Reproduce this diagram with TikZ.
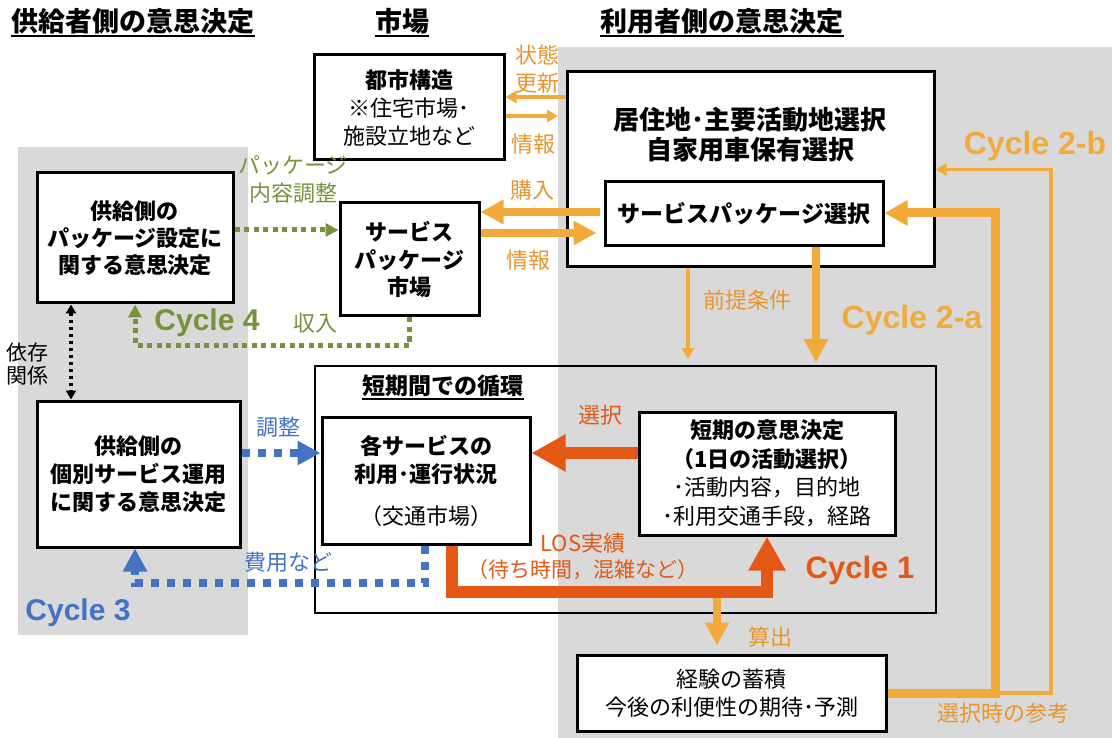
\documentclass[tikz,border=0pt]{standalone}
\usepackage{fontspec}
\setmainfont{Noto Sans CJK JP}
\newfontfamily\cycfont{Liberation Sans}
\usetikzlibrary{arrows.meta}
\definecolor{gry}{RGB}{217,217,217}
\definecolor{orgL}{RGB}{242,170,59}
\definecolor{orgT}{RGB}{230,150,45}
\definecolor{redo}{RGB}{226,88,20}
\definecolor{grn}{RGB}{118,146,60}
\definecolor{blu}{RGB}{68,114,196}
\tikzset{
  box/.style={draw=black, line width=3pt, fill=white, inner sep=0pt, align=center, font=\fontsize{22}{28}\selectfont},
  thinbox/.style={draw=black, line width=1.6pt},
  lbl/.style={inner sep=0pt, align=center, font=\fontsize{22}{28}\selectfont},
  ttl/.style={inner sep=0pt, font=\bfseries\fontsize{27}{30}\selectfont},
  cyc/.style={inner sep=0pt, font=\cycfont\bfseries\fontsize{31}{31}\selectfont},
  thickor/.style={draw=orgL, line width=8pt, -{Triangle[length=23pt,width=23pt]}},
  thinor/.style={draw=orgL, line width=3.5pt, -{Triangle[length=11pt,width=12pt]}},
  redarr/.style={draw=redo, line width=12pt, -{Triangle[length=34pt,width=35pt]}},
  grndot/.style={draw=grn, line width=5pt, dash pattern=on 5pt off 4.5pt, -{Triangle[length=13pt,width=13pt]}},
  bludot/.style={draw=blu, line width=8pt, dash pattern=on 8pt off 8pt, -{Triangle[length=23pt,width=23pt]}},
  blkdot/.style={draw=black, line width=3.5pt, dash pattern=on 3.5pt off 3.5pt, {Triangle[length=9pt,width=10pt]}-{Triangle[length=9pt,width=10pt]}},
}
\begin{document}
\begin{tikzpicture}[x=1pt,y=-1pt]
\useasboundingbox (0,0) rectangle (1112,738);
% gray backgrounds
\fill[gry] (18,147) rectangle (248,635);
\fill[gry] (558,47) rectangle (1112,738);

% titles
\node[ttl] (t1) at (133,21) {供給者側の意思決定};
\node[ttl] (t2) at (402,21) {市場};
\node[ttl] (t3) at (722,21) {利用者側の意思決定};
\foreach \t in {t1,t2,t3}{\draw[line width=1.8pt] ([yshift=-2pt]\t.south west) -- ([yshift=-2pt]\t.south east);}

% boxes
\node[box, minimum width=190pt, minimum height=105pt] (toshi) at (409,107.5) {\textbf{都市構造}\\※住宅市場･\\施設立地など};
\node[box, minimum width=367pt, minimum height=195pt] (big) at (750.5,169.5) {};
\node[lbl, font=\bfseries\fontsize{26}{30}\selectfont] (bigtxt) at (750,135) {居住地･主要活動地選択\\自家用車保有選択};
\node[box, minimum width=278pt, minimum height=64pt, font=\bfseries\fontsize{23}{28}\selectfont] (inner) at (744,214) {サービスパッケージ選択};
\node[box, minimum width=196pt, minimum height=130pt, font=\bfseries\fontsize{22}{27}\selectfont] (pkg) at (135,238) {供給側の\\パッケージ設定に\\関する意思決定};
\node[box, minimum width=139pt, minimum height=113pt, font=\bfseries\fontsize{22}{27.5}\selectfont] (market) at (409.5,259.5) {サービス\\パッケージ\\市場};
\node[box, minimum width=203pt, minimum height=146pt, font=\bfseries\fontsize{22}{28}\selectfont] (kobetsu) at (138.5,474) {供給側の\\個別サービス運用\\に関する意思決定};
\node[thinbox, minimum width=621pt, minimum height=247pt] (outer) at (625.5,489.5) {};
\node[ttl, font=\bfseries\fontsize{23}{26}\selectfont] (t4) at (443,386) {短期間での循環};
\draw[line width=1.5pt] ([yshift=-2pt]t4.south west) -- ([yshift=-2pt]t4.south east);
\node[box, minimum width=208pt, minimum height=127pt] (kaku) at (426,480.5) {\textbf{各サービスの}\\\textbf{利用･運行状況}\\[14pt]（交通市場）};
\node[box, minimum width=256pt, minimum height=123pt, font=\fontsize{22}{28.5}\selectfont] (tanki) at (767,473.5) {\textbf{短期の意思決定}\\\textbf{（1日の活動選択）}\\･活動内容，目的地\\･利用交通手段，経路};
\node[box, minimum width=309pt, minimum height=76pt] (keiken) at (731.5,693) {経験の蓄積\\今後の利便性の期待･予測};

% coordinates
\coordinate (c2a) at (995,0);
\coordinate (c2b) at (1051,0);
\coordinate (toshiEnd) at (558,116);
\coordinate (santop) at (717,598);

% toshi <-> big
\draw[thinor] (big.west |- 0,97) -- (toshi.east |- 0,97);
\draw[thinor] (toshi.east |- 0,116) -- (toshiEnd);
\node[lbl, text=orgT] (l1) at (537,55) {状態};
\node[lbl, text=orgT] (l2) at (537,83) {更新};
\node[lbl, text=orgT] (l3) at (533,144) {情報};

% inner <-> market
\draw[thickor] ([xshift=-4pt]inner.west |- 0,212) -- (market.east |- 0,212);
\draw[thickor, shorten >=7pt] (market.east |- 0,233) -- (inner.west |- 0,233);
\node[lbl, text=orgT] (l4) at (532,190) {購入};
\node[lbl, text=orgT] (l5) at (528,260) {情報};

% green cycle 4
\draw[grndot] (pkg.east |- 0,230) -- (market.west |- 0,230);
\node[lbl, text=grn] (l6) at (293,180) {パッケージ\\内容調整};
\draw[grndot] (market.south) -- (market.south |- 0,345) -- (pkg.south |- 0,345) -- (pkg.south);
\node[cyc, text=grn, font=\cycfont\bfseries\fontsize{30}{30}\selectfont] (cy4) at (207,323) {Cycle 4};
\node[lbl, text=grn] (l7) at (315,323) {収入};

% dependency
\draw[blkdot] (pkg.south -| 71,0) -- (kobetsu.north -| 71,0);
\node[lbl, font=\fontsize{21}{23}\selectfont] (l8) at (27,364) {依存\\関係};

% blue cycle 3
\draw[bludot] (kobetsu.east |- 0,453) -- (kaku.west |- 0,453);
\node[lbl, text=blu] (l9) at (278,427) {調整};
\draw[bludot] (kaku.south -| 425,0) -- (425,583) -- (135,583) -- (kobetsu.south -| 135,0);
\node[lbl, text=blu] (l10) at (288,562) {費用など};
\node[cyc, text=blu, font=\cycfont\bfseries\fontsize{30}{30}\selectfont] (cy3) at (78,613) {Cycle 3};

% red cycle 1
\draw[redarr] (tanki.west |- 0,453) -- (kaku.east |- 0,453);
\node[lbl, text=redo] (l11) at (600,415) {選択};
\draw[redarr] (kaku.south -| 452,0) -- (452,592) -- (767,592) -- (tanki.south);
\node[lbl, text=redo] (l12) at (583,543) {LOS実績};
\node[lbl, text=redo, font=\fontsize{21}{24}\selectfont] (l13) at (583,570) {（待ち時間，混雑など）};
\node[cyc, text=redo] (cy1) at (860,570) {Cycle 1};

% sanshutsu
\draw[thickor, shorten >=8pt] (santop) -- (keiken.north -| santop);
\node[lbl, text=orgT] (l14) at (770,637) {算出};

% cycle 2-a down
\draw[thickor, shorten >=3pt] (inner.south -| 816,0) -- (outer.north -| 816,0);
\draw[thinor, shorten >=6pt] (big.south -| 688,0) -- (outer.north -| 688,0);
\node[lbl, text=orgT] (l15) at (747,300) {前提条件};
\node[cyc, text=orgL, font=\cycfont\bfseries\fontsize{32}{32}\selectfont] (cy2a) at (912,320) {Cycle 2-a};

% cycle 2-a/2-b loops
\draw[draw=orgL, line width=3.5pt, -{Triangle[length=11pt,width=12pt]}] (c2a |- keiken.east) -- (c2b |- keiken.east) -- (c2b |- big.east) -- (big.east);
\draw[draw=orgL, line width=9pt, -{Triangle[length=23pt,width=24pt]}] (keiken.east) -- (c2a |- keiken.east) -- (c2a |- 0,213) -- (inner.east |- 0,213);
\node[cyc, text=orgL, font=\cycfont\bfseries\fontsize{32}{32}\selectfont] (cy2b) at (1035,146) {Cycle 2-b};
\node[lbl, text=orgT] (l16) at (1003,713) {選択時の参考};
\end{tikzpicture}
\end{document}
